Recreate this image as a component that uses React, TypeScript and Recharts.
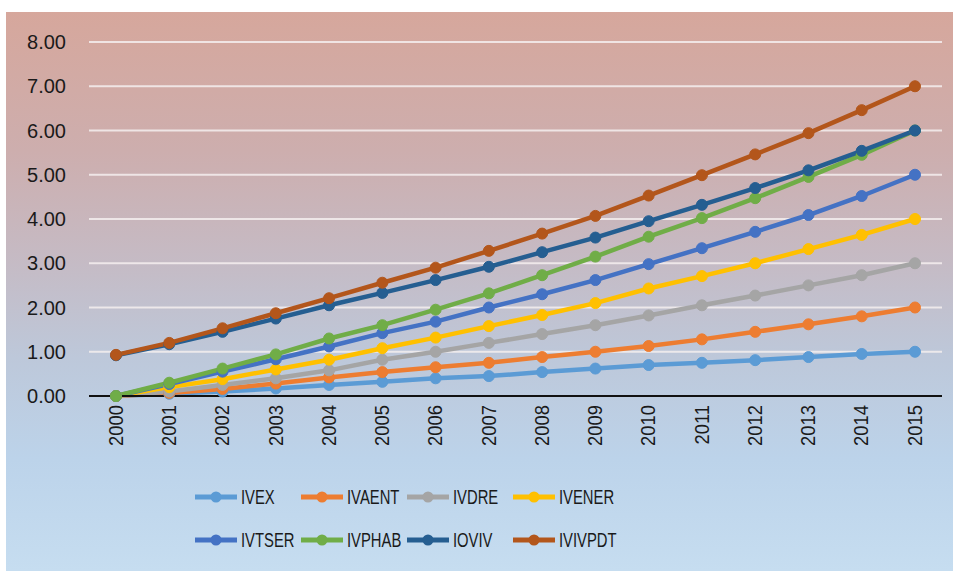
import React from "react";
import { LineChart, Line, XAxis, YAxis, CartesianGrid, Legend } from "recharts";

const years = [
  "2000", "2001", "2002", "2003", "2004", "2005", "2006", "2007",
  "2008", "2009", "2010", "2011", "2012", "2013", "2014", "2015",
];

const ivex = [0, 0.05, 0.1, 0.17, 0.25, 0.32, 0.4, 0.45, 0.54, 0.62, 0.7, 0.75, 0.81, 0.88, 0.95, 1.0];
const ivaent = [0, 0.07, 0.16, 0.28, 0.42, 0.54, 0.65, 0.75, 0.88, 1.0, 1.13, 1.28, 1.45, 1.62, 1.8, 2.0];
const ivdre = [0, 0.1, 0.25, 0.4, 0.58, 0.82, 1.0, 1.2, 1.4, 1.6, 1.82, 2.05, 2.27, 2.5, 2.73, 3.0];
const ivener = [0, 0.2, 0.38, 0.6, 0.82, 1.08, 1.32, 1.58, 1.83, 2.1, 2.43, 2.71, 3.0, 3.32, 3.64, 4.0];
const ivtser = [0, 0.27, 0.55, 0.83, 1.12, 1.42, 1.68, 2.0, 2.3, 2.62, 2.98, 3.34, 3.71, 4.09, 4.52, 5.0];
const ivphab = [0, 0.3, 0.62, 0.94, 1.3, 1.6, 1.95, 2.32, 2.73, 3.15, 3.6, 4.02, 4.47, 4.95, 5.45, 6.0];
const ioviv = [0.92, 1.17, 1.45, 1.75, 2.05, 2.33, 2.62, 2.92, 3.25, 3.58, 3.95, 4.32, 4.7, 5.1, 5.54, 6.0];
const ivivpdt = [0.93, 1.2, 1.53, 1.87, 2.21, 2.56, 2.9, 3.28, 3.67, 4.07, 4.53, 4.99, 5.46, 5.94, 6.46, 7.0];

const yTicks = [0, 1, 2, 3, 4, 5, 6, 7, 8];

const series = [
  { key: "IVEX", values: ivex, color: "#5b9bd5" },
  { key: "IVAENT", values: ivaent, color: "#ed7d31" },
  { key: "IVDRE", values: ivdre, color: "#a5a5a5" },
  { key: "IVENER", values: ivener, color: "#ffc000" },
  { key: "IVTSER", values: ivtser, color: "#4472c4" },
  { key: "IVPHAB", values: ivphab, color: "#70ad47" },
  { key: "IOVIV", values: ioviv, color: "#255e91" },
  { key: "IVIVPDT", values: ivivpdt, color: "#b3561b" },
];

const data = years.map((year, i) => {
  const row: Record<string, string | number> = { year };
  series.forEach((s) => (row[s.key] = s.values[i]));
  return row;
});

const FONT = "'Liberation Sans', sans-serif";

function YearTick({ x, y, payload }: any) {
  return (
    <text
      transform={`translate(${x},${y + 1}) rotate(-90) scale(0.92,1)`}
      textAnchor="end"
      dominantBaseline="central"
      fontSize={20}
      fontFamily={FONT}
      fill="#1a1a1a"
    >
      {payload.value}
    </text>
  );
}

// keep the legend in series order, like the original
function LegendBox() {
  return (
    <div
      style={{
        display: "grid",
        gridTemplateColumns: "repeat(4, 106px)",
        gridAutoRows: "24px",
        rowGap: 19,
        paddingLeft: 189,
        paddingTop: 24,
        height: 110,
        boxSizing: "border-box",
        lineHeight: 1,
      }}
    >
      {series.map((s) => (
        <div key={s.key} style={{ display: "flex", alignItems: "center", height: 24, whiteSpace: "nowrap" }}>
          <svg width={44} height={14} style={{ marginRight: 2, flex: "none" }}>
            <line x1={0} y1={7} x2={42} y2={7} stroke={s.color} strokeWidth={5} />
            <circle cx={21} cy={7} r={5.5} fill={s.color} />
          </svg>
          <span
            style={{
              display: "inline-block",
              fontFamily: FONT,
              fontSize: 20,
              color: "#1a1a1a",
              transform: "scaleX(0.74)",
              transformOrigin: "left center",
            }}
          >
            {s.key}
          </span>
        </div>
      ))}
    </div>
  );
}

export default function App() {
  return (
    <div
      style={{
        position: "fixed",
        left: 0,
        top: 0,
        width: 959,
        height: 571,
        background: "#ffffff",
      }}
    >
      <div
        style={{
          position: "absolute",
          left: 6,
          top: 12,
          width: 947,
          height: 559,
          background:
            "linear-gradient(to bottom, #d6a79c 0%, #cdaeae 25%, #c5bbc5 45%, #bdc8da 62%, #bcd3ea 80%, #c6ddf0 100%)",
        }}
      >
        <LineChart
          width={947}
          height={559}
          data={data}
          margin={{ top: 30, right: 11, bottom: 0, left: 0 }}
        >
          <CartesianGrid vertical={false} stroke="#f4eeee" strokeWidth={2} strokeOpacity={0.85} />
          <XAxis
            dataKey="year"
            height={65}
            interval={0}
            padding={{ left: 27, right: 27 }}
            axisLine={{ stroke: "#111", strokeWidth: 2 }}
            tickLine={false}
            tick={<YearTick />}
          />
          <YAxis
            width={83}
            domain={[0, 8]}
            ticks={yTicks}
            axisLine={false}
            tickLine={false}
            tickSize={0}
            tickMargin={23}
            tickFormatter={(v: number) => v.toFixed(2)}
            tick={{ fontSize: 20, fontFamily: FONT, fill: "#1a1a1a" }}
          />
          <Legend verticalAlign="bottom" content={<LegendBox />} />
          {series.map((s) => (
            <Line
              key={s.key}
              type="linear"
              dataKey={s.key}
              stroke={s.color}
              strokeWidth={4.5}
              dot={{ r: 5.5, fill: s.color, stroke: s.color, strokeWidth: 1 }}
              isAnimationActive={false}
            />
          ))}
        </LineChart>
      </div>
    </div>
  );
}
